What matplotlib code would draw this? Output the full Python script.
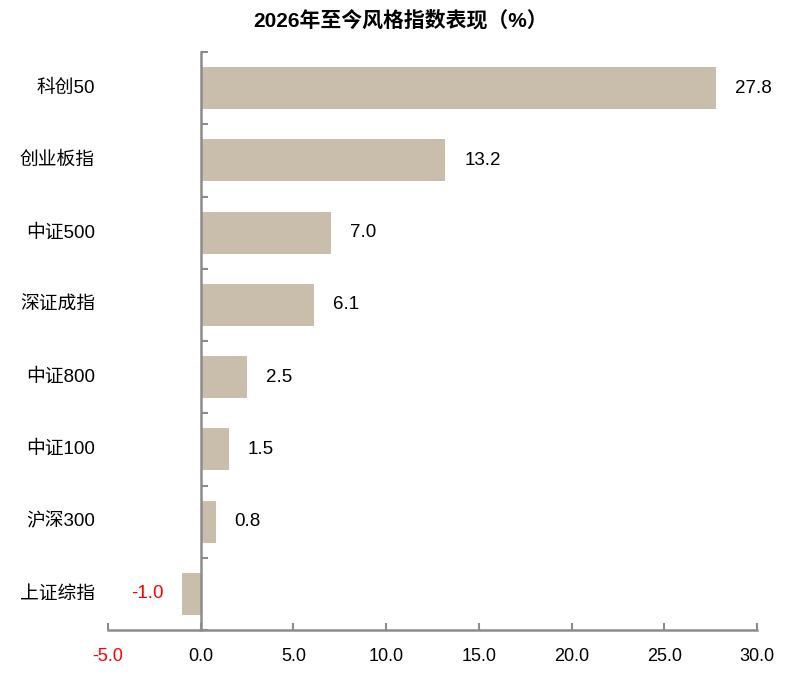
import matplotlib
matplotlib.use("Agg")
import matplotlib.pyplot as plt
import matplotlib.transforms as mtransforms
from matplotlib.ticker import FixedLocator

plt.rcParams['font.family'] = ['Liberation Sans', 'Noto Sans CJK SC', 'DejaVu Sans']

categories = ["科创50", "创业板指", "中证500", "深证成指", "中证800", "中证100", "沪深300", "上证综指"]
values = [27.8, 13.2, 7.0, 6.1, 2.5, 1.5, 0.8, -1.0]
xticks = [-5.0, 0.0, 5.0, 10.0, 15.0, 20.0, 25.0, 30.0]
title = "2026年至今风格指数表现（%）"

bar_color = "#C9BEAC"
axis_color = "#8C8C8C"

fig = plt.figure(figsize=(8.02, 6.74), dpi=100)
ax = fig.add_axes([108/802, 1 - 630/674, (757-108)/802, (630-52)/674])

n = len(categories)
ypos = list(range(n))
ax.barh(ypos, values, height=0.58, color=bar_color, zorder=2)
ax.set_ylim(n - 0.5, -0.5)
ax.set_xlim(-5, 30)

# spines
for s in ["top", "right"]:
    ax.spines[s].set_visible(False)
ax.spines["left"].set_position(("data", 0))
ax.spines["left"].set_color(axis_color)
ax.spines["left"].set_linewidth(1.8)
ax.spines["bottom"].set_color(axis_color)
ax.spines["bottom"].set_linewidth(1.8)

ax.set_xticks(xticks)
ax.set_xticklabels([f"{t:.1f}" for t in xticks])
ax.tick_params(axis="x", direction="in", length=5, width=1.5, color=axis_color,
               labelsize=13, pad=13)
for lbl, t in zip(ax.get_xticklabels(), xticks):
    if t < 0:
        lbl.set_color("red")

ax.set_yticks([])
ax.yaxis.set_minor_locator(FixedLocator([i - 0.5 for i in range(n + 1)]))
ax.tick_params(axis="y", which="minor", direction="in", length=5, width=1.5,
               color=axis_color, labelleft=False)

trans = mtransforms.blended_transform_factory(ax.transAxes, ax.transData)
for i, c in enumerate(categories):
    ax.text(-0.02, i, c, transform=trans, ha="right", va="center", fontsize=13.5)

off = mtransforms.offset_copy
for i, v in enumerate(values):
    if v >= 0:
        t = off(ax.transData, fig=fig, x=19, y=0, units="dots")
        ax.text(v, i, f"{v:.1f}", transform=t, ha="left", va="center", fontsize=13.5)
    else:
        t = off(ax.transData, fig=fig, x=-19, y=0, units="dots")
        ax.text(v, i, f"{v:.1f}", transform=t, ha="right", va="center",
                fontsize=13.5, color="red")

fig.text(0.5, 1 - 20/674, title, ha="center", va="center", fontsize=15,
         fontweight="bold")

fig.savefig("out.png", dpi=100)
